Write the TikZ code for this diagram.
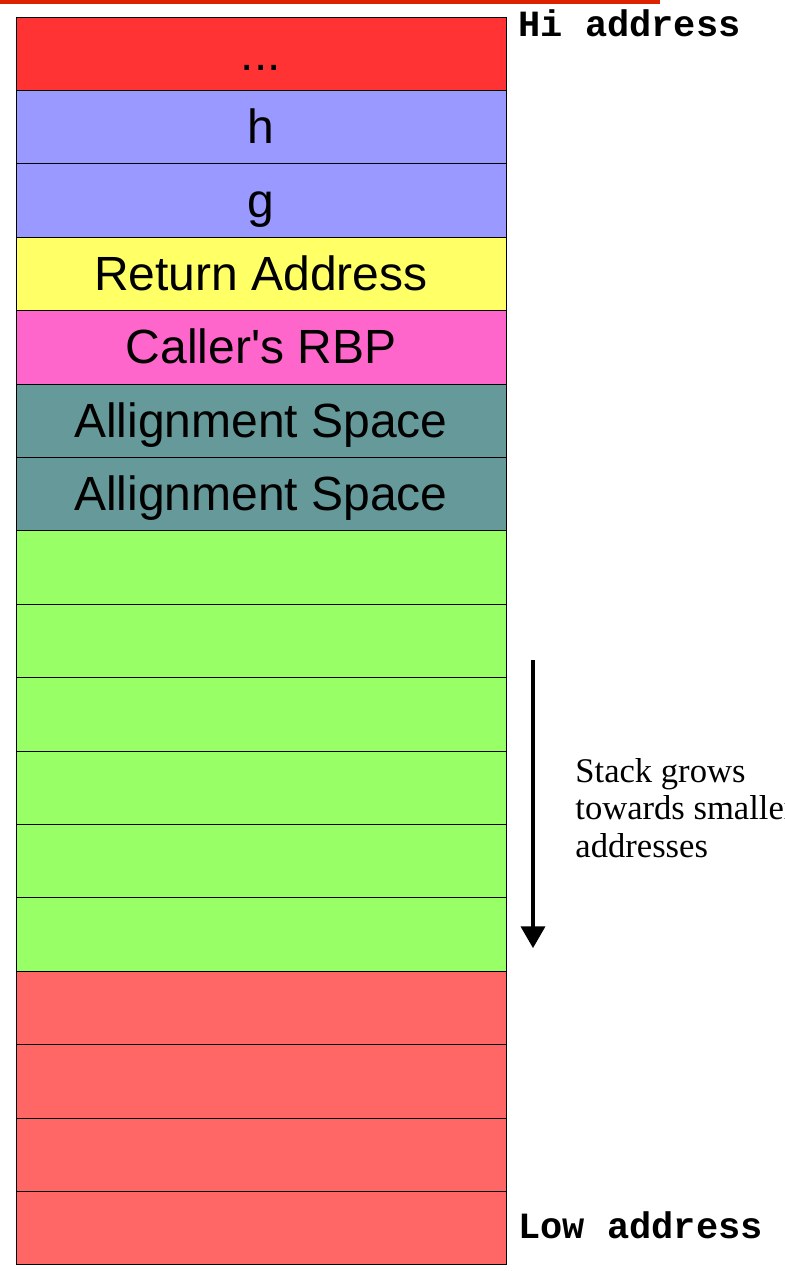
\documentclass[tikz,border=0pt]{standalone}
\usepackage{fontspec}
\setmainfont{Liberation Serif}
\newfontfamily\arialfont{Liberation Sans}
\newfontfamily\courfont{Liberation Mono}
\usepackage{tikz}
\usetikzlibrary{shapes,arrows,positioning}

\definecolor{topred}{RGB}{221,34,0}
\definecolor{dotsred}{RGB}{255,51,51}
\definecolor{argblue}{RGB}{153,153,255}
\definecolor{retyellow}{RGB}{255,255,102}
\definecolor{rbppink}{RGB}{255,102,204}
\definecolor{alignteal}{RGB}{102,153,153}
\definecolor{locgreen}{RGB}{153,255,102}
\definecolor{lowred}{RGB}{255,102,102}

\tikzset{
  cell/.style={draw=black, line width=0.5pt, minimum width=245pt, minimum height=36.7pt,
    inner sep=0pt, outer sep=0pt, text height=17pt, text depth=0.5pt,
    font=\arialfont\fontsize{24}{26}\selectfont},
  addr/.style={font=\courfont\bfseries\fontsize{18.5}{20}\selectfont, inner sep=0pt, anchor=base west}
}

\begin{document}
\begin{tikzpicture}[x=0.5pt,y=-0.5pt]
\useasboundingbox (0,0) rectangle (785,1271);

\draw[topred, line width=2pt] (0,2) -- (660,2);

\node[cell, fill=dotsred, anchor=north west] (dots) at (16,17) {...};
\node[cell, fill=argblue, below=0pt of dots] (h) {h};
\node[cell, fill=argblue, below=0pt of h] (g) {g};
\node[cell, fill=retyellow, below=0pt of g] (ret) {Return Address};
\node[cell, fill=rbppink, below=0pt of ret] (rbp) {Caller's RBP};
\node[cell, fill=alignteal, below=0pt of rbp] (align1) {Allignment Space};
\node[cell, fill=alignteal, below=0pt of align1] (align2) {Allignment Space};
\node[cell, fill=locgreen, below=0pt of align2] (loc1) {};
\node[cell, fill=locgreen, below=0pt of loc1] (loc2) {};
\node[cell, fill=locgreen, below=0pt of loc2] (loc3) {};
\node[cell, fill=locgreen, below=0pt of loc3] (loc4) {};
\node[cell, fill=locgreen, below=0pt of loc4] (loc5) {};
\node[cell, fill=locgreen, below=0pt of loc5] (loc6) {};
\node[cell, fill=lowred, below=0pt of loc6] (low1) {};
\node[cell, fill=lowred, below=0pt of low1] (low2) {};
\node[cell, fill=lowred, below=0pt of low2] (low3) {};
\node[cell, fill=lowred, below=0pt of low3] (low4) {};

\node[addr] (hiaddr) at (518,36) {Hi address};
\node[addr] (lowaddr) at (518,1238) {Low address};

\coordinate (growtop) at (533,660);
\coordinate (growbot) at (533,948);
\draw[line width=2pt, -triangle 60] (growtop) -- (growbot);

\node[anchor=north west, inner sep=0pt, align=left,
  font=\fontsize{17.3}{18.75}\selectfont] (grows) at (575,758)
  {Stack grows\\towards smaller\\addresses};

\end{tikzpicture}
\end{document}
